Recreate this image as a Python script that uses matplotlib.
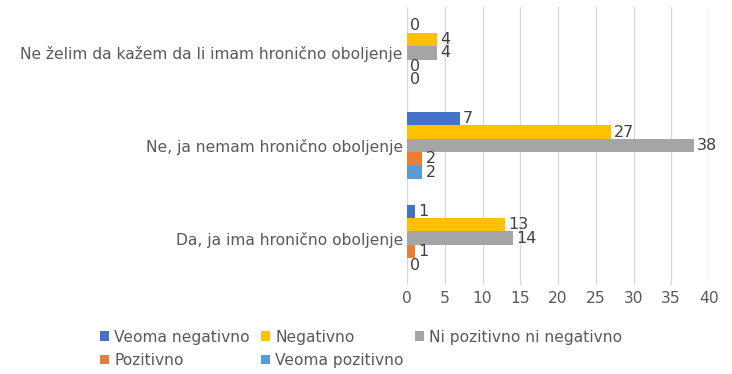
import numpy as np
import matplotlib.pyplot as plt

categories = ['Da, ja ima hronično oboljenje',
              'Ne, ja nemam hronično oboljenje',
              'Ne želim da kažem da li imam hronično oboljenje']
series = ['Veoma negativno', 'Negativno', 'Ni pozitivno ni negativno',
          'Pozitivno', 'Veoma pozitivno']
veoma_negativno = [1, 7, 0]
negativno = [13, 27, 4]
neutralno = [14, 38, 4]
pozitivno = [1, 2, 0]
veoma_pozitivno = [0, 2, 0]
values = [veoma_negativno, negativno, neutralno, pozitivno, veoma_pozitivno]
colors = ['#4472c4', '#ffc000', '#a5a5a5', '#ed7d31', '#5b9bd5']
xticks = [0, 5, 10, 15, 20, 25, 30, 35, 40]

fs = 11.2
fig = plt.figure(figsize=(7.32, 3.74), dpi=100)
ax = fig.add_axes([407 / 732, 1 - 284.5 / 374, 302 / 732, 278 / 374])

y = np.arange(len(categories))
h = 0.145
bars = []
for i, (name, vals, col) in enumerate(zip(series, values, colors)):
    b = ax.barh(y + (2 - i) * h, vals, height=h, color=col, label=name, zorder=3)
    bars.append(b)
    for yy, v in zip(y + (2 - i) * h, vals):
        ax.text(v + 0.45, yy, str(v), va='center', ha='left', fontsize=11.5,
                color='#404040', zorder=4)

ax.set_xlim(0, 40)
ax.set_ylim(-0.5, 2.5)
ax.set_xticks(xticks)
ax.set_yticks(y)
ax.set_yticklabels(categories)
ax.tick_params(axis='both', length=0, labelsize=fs, colors='#595959')
ax.tick_params(axis='x', pad=5)
ax.tick_params(axis='y', pad=3)
ax.grid(axis='x', color='#d9d9d9', linewidth=1, zorder=0)
for s in ax.spines.values():
    s.set_visible(False)

order = [0, 3, 1, 4, 2]
handles = [bars[k] for k in order]
labels = [series[k] for k in order]
fig.legend(handles, labels, ncol=3, loc='lower left', bbox_to_anchor=(86 / 732, -0.022),
           frameon=False, fontsize=fs, handlelength=0.55, handleheight=0.55,
           handletextpad=0.35, columnspacing=0.75, labelspacing=0.55,
           labelcolor='#595959')

fig.savefig('out.png', dpi=100)
